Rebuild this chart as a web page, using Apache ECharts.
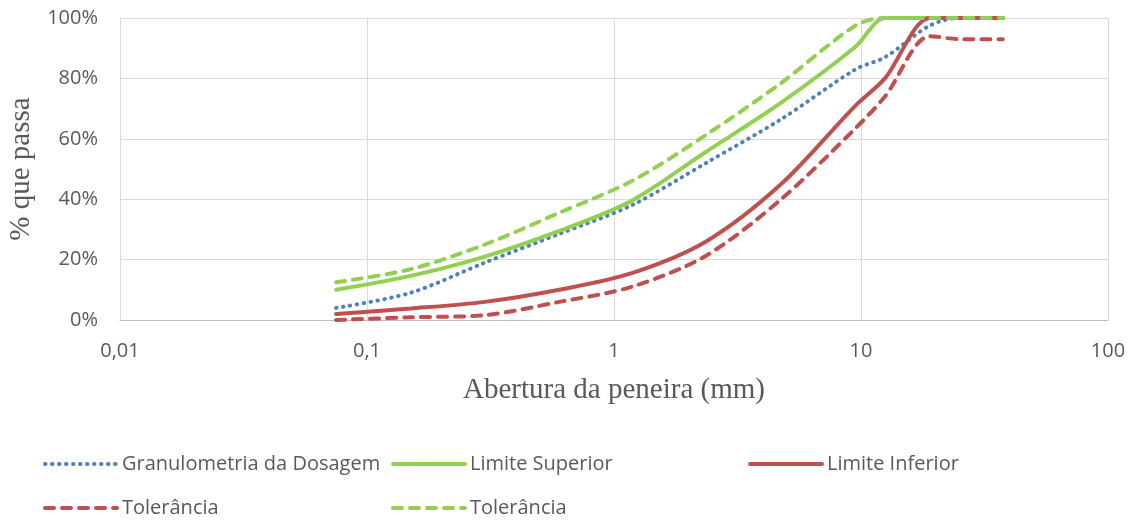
<!DOCTYPE html>
<html>
<head>
<meta charset="utf-8">
<script src="https://cdn.jsdelivr.net/npm/echarts@6/dist/echarts.min.js"></script>
<style>
  html, body { margin: 0; padding: 0; background: #fff; }
  #main { width: 1138px; height: 521px; }
</style>
</head>
<body>
<div id="main"></div>
<script>
// sieve openings (mm) and % passing
var sieves = [0.075, 0.15, 0.3, 0.6, 1.18, 2.36, 4.75, 9.5, 12.5, 19, 25, 37.5];
var dosagem = [4, 9, 19, 28.5, 38, 52, 66.5, 83, 87, 97.5, 100, 100];
var limSup = [10, 14.6, 21, 29.5, 39.5, 55.7, 72, 90.5, 100, 100, 100, 100];
var limInf = [2, 3.8, 6, 10, 15.5, 26, 45, 71, 80, 100, 100, 100];
var tolInf = [0, 0.9, 1.6, 6, 11, 21.3, 40, 63.5, 74, 94, 93, 93];
var tolSup = [12.5, 16.8, 25, 35.5, 46, 61.3, 78.5, 97.5, 100, 100, 100, 100];
var yTicks = [0, 20, 40, 60, 80, 100];

function pairs(vals) {
  return sieves.map(function (s, i) { return [s, vals[i]]; });
}

var txt = "#595959";
var sans = "'Open Sans', sans-serif";
var serif = "'Liberation Serif', 'Times New Roman', serif";

var myChart = echarts.init(document.getElementById("main"));

function legendAt(name, left, top) {
  return {
    data: [name],
    left: left,
    top: top,
    padding: 0,
    itemWidth: 72,
    itemHeight: 14,
    itemGap: 4,
    itemStyle: { opacity: 0 },
    lineStyle: { width: 4, cap: "round" },
    textStyle: { color: txt, fontFamily: sans, fontSize: 20 },
    formatter: function (n) { return n.indexOf("Tolerância") === 0 ? "Tolerância" : n; }
  };
}

function line(name, vals, color, type) {
  return {
    name: name,
    type: "line",
    data: pairs(vals),
    symbol: "none",
    smooth: 0.3,
    lineStyle: { color: color, width: 4, type: type, cap: "round" },
    itemStyle: { color: color }
  };
}

var option = {
  animation: false,
  grid: { left: 120, right: 30, top: 18, bottom: 201, outerBoundsMode: "none", containLabel: false },
  legend: [
    legendAt("Granulometria da Dosagem", 43, 454),
    legendAt("Limite Superior", 391, 454),
    legendAt("Limite Inferior", 748, 454),
    legendAt("Tolerância inf", 43, 498),
    legendAt("Tolerância sup", 391, 498)
  ],
  xAxis: {
    type: "log",
    logBase: 10,
    min: 0.01,
    max: 100,
    name: "Abertura da peneira (mm)",
    nameLocation: "middle",
    nameGap: 56,
    nameTextStyle: { fontFamily: serif, fontSize: 29, color: txt },
    axisLine: { show: true, lineStyle: { color: "#bfbfbf", width: 1 } },
    axisTick: { show: false },
    splitLine: { show: true, lineStyle: { color: "#d9d9d9", width: 1 } },
    axisLabel: {
      margin: 21,
      color: txt,
      fontFamily: sans,
      fontSize: 20,
      formatter: function (v) { return String(+v.toPrecision(6)).replace(".", ","); }
    }
  },
  yAxis: {
    type: "value",
    min: yTicks[0],
    max: yTicks[yTicks.length - 1],
    interval: 20,
    name: "% que passa",
    nameLocation: "middle",
    nameGap: 83,
    nameTextStyle: { fontFamily: serif, fontSize: 29, color: txt },
    axisLine: { show: false },
    axisTick: { show: false },
    splitLine: { lineStyle: { color: "#d9d9d9", width: 1 } },
    axisLabel: { margin: 22, color: txt, fontFamily: sans, fontSize: 20, formatter: "{value}%" }
  },
  series: [
    line("Granulometria da Dosagem", dosagem, "#4f81bd", [0.5, 6.5]),
    line("Limite Superior", limSup, "#92d050", "solid"),
    line("Limite Inferior", limInf, "#c0504d", "solid"),
    line("Tolerância inf", tolInf, "#c0504d", [9, 8]),
    line("Tolerância sup", tolSup, "#92d050", [9, 8])
  ]
};

myChart.setOption(option);
</script>
</body>
</html>
